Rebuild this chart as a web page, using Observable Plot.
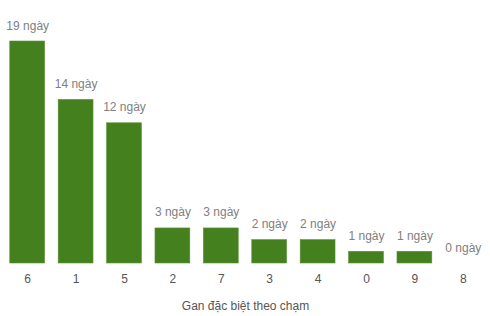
<!DOCTYPE html>
<html><head><meta charset="utf-8">
<script src="https://cdn.jsdelivr.net/npm/d3@7"></script>
<script src="https://cdn.jsdelivr.net/npm/@observablehq/plot@0.6"></script>
<style>body{margin:0;background:#fff;font-family:"Liberation Sans",Arial,sans-serif}</style>
</head><body><div id="c"></div>
<script>
const categories = ["6","1","5","2","7","3","4","0","9","8"];
const values = [19,14,12,3,3,2,2,1,1,0];
const labels = values.map(v => v + " ngày");
const data = categories.map((c,i)=>({c, v: values[i], l: labels[i]}));
const chart = Plot.plot({
  width: 490, height: 316,
  marginLeft: 3, marginRight: 3, marginTop: 41, marginBottom: 53,
  style: {fontFamily: '"Liberation Sans", Arial, sans-serif', fontSize: "12px", background: "#fff"},
  x: {domain: categories, paddingInner: 0.28, paddingOuter: 0.14, round: false, label: null},
  y: {domain: [0, 19], axis: null},
  marks: [
    Plot.barY(data, {x: "c", y: "v", fill: "#45801f", stroke: "#5a9236", strokeWidth: 0.6}),
    Plot.text(data, {x: "c", y: "v", text: "l", lineAnchor: "bottom", dy: -12, fill: "#808080", fontSize: 12}),
    Plot.axisX({tickSize: 0, tickPadding: 11, color: "#555", fontSize: 12, label: null}),
    Plot.text(["Gan đặc biệt theo chạm"], {frameAnchor: "bottom", dy: 46, fill: "#555", fontSize: 12})
  ]
});
document.getElementById("c").appendChild(chart);
</script></body></html>
